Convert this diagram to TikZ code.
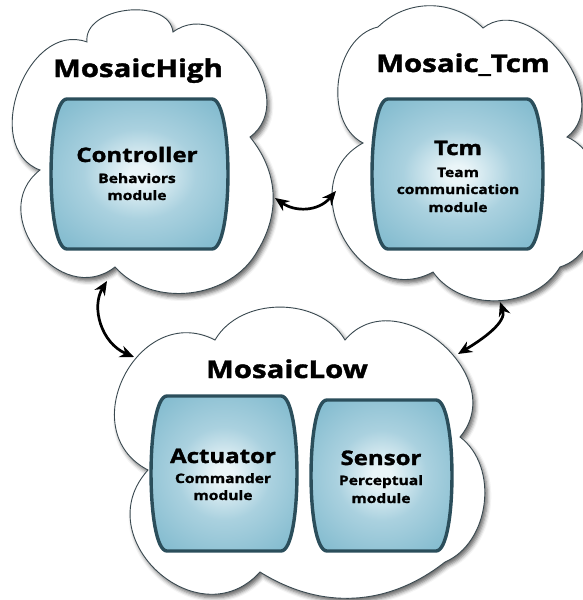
\documentclass[tikz,border=0pt]{standalone}
\usepackage{fontspec}
\setmainfont{Open Sans}[FakeStretch=1.2, BoldFeatures={FakeBold=1.6}]
\usetikzlibrary{arrows.meta,shadows.blur}
\definecolor{boxline}{HTML}{2B4E5B}
\definecolor{boxout}{HTML}{74AFC4}
\definecolor{boxsides}{HTML}{86BDD0}
\definecolor{boxmid}{HTML}{AAD1DF}
\definecolor{boxin}{HTML}{EAF5F8}
\definecolor{cloudline}{HTML}{3A4950}
\pgfdeclareradialshading{boxshade}{\pgfpoint{0bp}{0bp}}{color(0bp)=(boxin); color(3bp)=(boxin); color(15bp)=(boxmid); color(30bp)=(boxsides); color(50bp)=(boxout)}
\newcommand{\barrel}[4]{%
  \draw[modbox] (#1+16,#2) -- (#3-16,#2)
    .. controls (#3+5.3,#2) and (#3+5.3,#4) .. (#3-16,#4)
    -- (#1+16,#4)
    .. controls (#1-5.3,#4) and (#1-5.3,#2) .. (#1+16,#2) -- cycle;}
\tikzset{
  cloudpath/.style={draw=cloudline, line width=0.9pt, fill=white,
    blur shadow={shadow xshift=2.5pt, shadow yshift=-3.5pt, shadow blur radius=4pt, shadow opacity=60}},
  bump/.style 2 args={bend left=#1, looseness=#2},
  modbox/.style={draw=boxline, line width=3.4pt, shade, shading=boxshade},
  cloudtitle/.style={font=\fontsize{24.5}{28}\selectfont\bfseries, anchor=base, inner sep=0pt},
  modtitle/.style={font=\fontsize{20}{24}\selectfont\bfseries, anchor=base, inner sep=0pt},
  modsub/.style={font=\fontsize{13}{16}\selectfont\bfseries, anchor=base, inner sep=0pt},
  link/.style={line width=2.7pt, {Stealth[length=14pt,width=12pt]}-{Stealth[length=14pt,width=12pt]}},
}
\begin{document}
\begin{tikzpicture}[x=1pt,y=-1pt]
\useasboundingbox (0,0) rectangle (583,600);
\clip (0,0) rectangle (583,600);
% clouds
\draw[cloudpath] (40,170) to[bump={90}{1.2}] (87,42) to[bump={90}{1.06}] (173,32)
  to[bump={90}{1.25}] (250,137) to[bump={35}{1}] (258,250) to[bump={55}{1}] (115,267)
  to[bump={90}{1.45}] (40,170) -- cycle;
\draw[cloudpath] (363,143) to[bump={70}{1}] (378,27) to[bump={45}{1}] (483,28)
  to[bump={90}{1.15}] (567,137) to[bump={70}{1}] (560,267) to[bump={57}{1}] (433,272)
  to[bump={90}{1.45}] (363,143) -- cycle;
\draw[cloudpath] (148,470) to[bump={90}{1.5}] (215,340) to[bump={60}{1}] (345,340)
  to[bump={90}{1.35}] (460,437) to[bump={60}{1}] (445,562) to[bump={35}{1}] (260,572)
  to[bump={90}{1.55}] (148,470) -- cycle;
% module boxes
\barrel{51}{99}{228}{249}
\barrel{372}{99}{543}{249}
\barrel{151}{396}{297}{551}
\barrel{311}{400}{452}{551}
% titles
\node[cloudtitle] (hititle) at (138,77) {MosaicHigh};
\node[cloudtitle] (tcmtitle) at (463,72) {Mosaic\_Tcm};
\node[cloudtitle] (lotitle) at (287,378) {MosaicLow};
% module texts
\node[modtitle] (ctrl) at (137,162) {Controller};
\node[modsub] (ctrla) at (137,183) {Behaviors};
\node[modsub] (ctrlb) at (137,200) {module};
\node[modtitle] (tcm) at (458,155) {Tcm};
\node[modsub] (tcma) at (458,177) {Team};
\node[modsub] (tcmb) at (458,194) {communication};
\node[modsub] (tcmc) at (458,212) {module};
\node[modtitle] (act) at (223,463) {Actuator};
\node[modsub] (acta) at (223,483) {Commander};
\node[modsub] (actb) at (223,500) {module};
\node[modtitle] (sen) at (381,465) {Sensor};
\node[modsub] (sena) at (381,485) {Perceptual};
\node[modsub] (senb) at (381,503) {module};
% connectors
\coordinate (hibot) at (107,281);
\coordinate (lotl) at (134,357);
\coordinate (hiright) at (275,198);
\coordinate (tcmleft) at (336,191);
\coordinate (tcmbot) at (500,302);
\coordinate (lotr) at (458,354);
\draw[link] (hibot) .. controls (91,307) and (101,343) .. (lotl);
\draw[link] (hiright) .. controls (295,212) and (318,212) .. (tcmleft);
\draw[link] (tcmbot) .. controls (507,322) and (483,339) .. (lotr);
\end{tikzpicture}
\end{document}
